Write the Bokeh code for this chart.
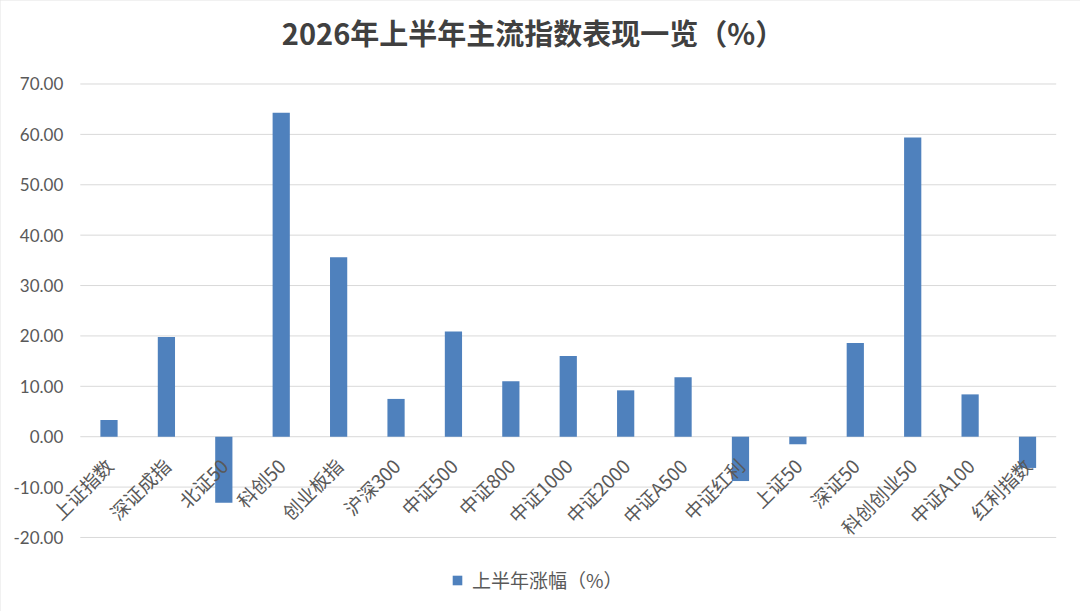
import math
from bokeh.plotting import figure
from bokeh.models import (Range1d, FixedTicker, PrintfTickFormatter, Legend, LegendItem, Label)
from bokeh.embed import file_html
from bokeh.resources import INLINE

categories = ["上证指数", "深证成指", "北证50", "科创50", "创业板指", "沪深300", "中证500",
              "中证800", "中证1000", "中证2000", "中证A500", "中证红利", "上证50", "深证50",
              "科创创业50", "中证A100", "红利指数"]
returns = [3.3, 19.8, -13.1, 64.3, 35.6, 7.5, 20.9, 11.0, 16.0, 9.2, 11.8, -8.8, -1.5,
           18.6, 59.4, 8.4, -6.2]
y_ticks = [-20, -10, 0, 10, 20, 30, 40, 50, 60, 70]
title_text = "2026年上半年主流指数表现一览（%）"
series_name = "上半年涨幅（%）"

CJK = "Noto Sans CJK SC"
n = len(categories)
idx = list(range(n))

# the frame covers the whole canvas so that no text gets clipped;
# the plot area runs from category -0.5 to n-0.5 and from -20 to 70
p = figure(width=1080, height=611,
           x_range=Range1d(-1.890, 16.923),
           y_range=Range1d(-34.69, 86.57),
           min_border_left=0, min_border_right=0, min_border_bottom=0, min_border_top=0,
           toolbar_location=None, output_backend="svg")

# horizontal gridlines limited to the plot area
p.segment(x0=[-0.5] * len(y_ticks), x1=[n - 0.5] * len(y_ticks), y0=y_ticks, y1=y_ticks,
          line_color="#d9d9d9", line_width=1)

bars = p.vbar(x=idx, top=returns, width=0.3, fill_color="#4F81BD", line_color=None)

p.xgrid.grid_line_color = None
p.ygrid.grid_line_color = None
p.outline_line_color = None

# category axis along the zero line
p.xaxis.fixed_location = 0
p.xaxis.ticker = FixedTicker(ticks=idx)
p.xaxis.major_label_overrides = {i: c for i, c in enumerate(categories)}
p.xaxis.axis_line_color = None
p.xaxis.major_tick_line_color = None
p.xaxis.minor_tick_line_color = None
p.xaxis.major_label_orientation = math.pi / 4
p.xaxis.major_label_text_font = CJK
p.xaxis.major_label_text_font_size = "19px"
p.xaxis.major_label_text_color = "#595959"
p.xaxis.major_label_standoff = 19

# value axis at the left edge of the plot area
p.yaxis.fixed_location = -0.5
p.yaxis.ticker = FixedTicker(ticks=y_ticks)
p.yaxis.formatter = PrintfTickFormatter(format="%.2f")
p.yaxis.axis_line_color = None
p.yaxis.major_tick_line_color = None
p.yaxis.minor_tick_line_color = None
p.yaxis.major_label_text_font = "Lato"
p.yaxis.major_label_text_font_size = "17px"
p.yaxis.major_label_text_color = "#595959"
p.yaxis.major_label_standoff = 11

title = Label(x=532.5, y=580, x_units="screen", y_units="screen", text=title_text,
              text_align="center", text_baseline="middle", text_font=CJK,
              text_font_size="29px", text_font_style="bold", text_color="#404040")
p.add_layout(title)

legend = Legend(items=[LegendItem(label=series_name, renderers=[bars])],
                orientation="horizontal", location=(451, 18),
                border_line_color=None, background_fill_alpha=0,
                label_text_font=CJK, label_text_font_size="19px",
                label_text_color="#595959", glyph_width=12, glyph_height=12,
                label_standoff=9, margin=0, padding=4)
p.add_layout(legend, "center")

p.styles = {"outline": "2px solid #e3e3e3", "outline-offset": "-2px"}

open("out.html", "w").write(file_html(p, INLINE))
